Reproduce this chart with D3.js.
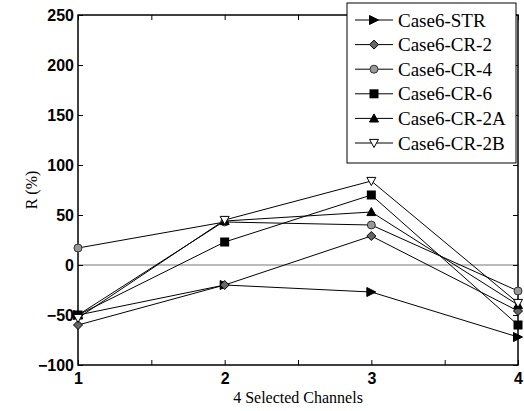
<!DOCTYPE html>
<html>
<head>
<meta charset="utf-8">
<script src="https://cdn.jsdelivr.net/npm/d3@7"></script>
<style>
  html, body { margin: 0; padding: 0; background: #fff; }
  svg { display: block; }
</style>
</head>
<body>
<svg id="chart" width="524" height="411"></svg>
<script>
// Channel positions on the x axis
const channels = [1, 2, 3, 4];

// R (%) for each case at the four selected channels
const seriesNames = ["Case6-STR", "Case6-CR-2", "Case6-CR-4", "Case6-CR-6", "Case6-CR-2A", "Case6-CR-2B"];
const strValues  = [-50, -20, -27, -72];
const cr2Values  = [-60, -20, 29, -46];
const cr4Values  = [17, 43, 40, -26];
const cr6Values  = [-50, 23, 70, -60];
const cr2aValues = [-50, 44, 53, -40];
const cr2bValues = [-53, 45, 84, -38];

const xTickValues = [1, 1.5, 2, 2.5, 3, 3.5, 4];
const xTickLabels = ["1", "", "2", "", "3", "", "4"];
const yTickValues = [-100, -50, 0, 50, 100, 150, 200, 250];

const allValues = [strValues, cr2Values, cr4Values, cr6Values, cr2aValues, cr2bValues];
const markerKinds = ["triRight", "diamond", "circle", "square", "triUp", "triDown"];

const svg = d3.select("#chart");
const margin = { left: 78, right: 6, top: 15, bottom: 46 };
const W = 524, H = 411;

const x = d3.scaleLinear().domain([1, 4]).range([margin.left, W - margin.right]);
const y = d3.scaleLinear().domain([-100, 250]).range([H - margin.bottom, margin.top]);

const x0 = x.range()[0], x1 = x.range()[1];
const y0 = y.range()[0], y1 = y.range()[1];

// zero reference line
svg.append("line")
  .attr("x1", x0).attr("x2", x1)
  .attr("y1", y(0)).attr("y2", y(0))
  .attr("stroke", "#777").attr("stroke-width", 1);

// axes with inward ticks
const tickFont = "bold 16px 'Liberation Sans', Arial, sans-serif";
const xAxis = d3.axisBottom(x).tickValues(xTickValues)
  .tickFormat((d, i) => xTickLabels[i]).tickSizeInner(-5).tickSizeOuter(0).tickPadding(8);
const yAxis = d3.axisLeft(y).tickValues(yTickValues)
  .tickFormat(d3.format("d")).tickSizeInner(-5).tickSizeOuter(0).tickPadding(4);

const gx = svg.append("g").attr("transform", `translate(0,${y0})`).call(xAxis);
const gy = svg.append("g").attr("transform", `translate(${x0},0)`).call(yAxis);
const gxTop = svg.append("g").attr("transform", `translate(0,${y1})`)
  .call(d3.axisTop(x).tickValues(xTickValues).tickFormat("").tickSizeInner(-5).tickSizeOuter(0));
const gyRight = svg.append("g").attr("transform", `translate(${x1},0)`)
  .call(d3.axisRight(y).tickValues(yTickValues).tickFormat("").tickSizeInner(-5).tickSizeOuter(0));

[gx, gy, gxTop, gyRight].forEach(g => {
  g.select(".domain").remove();
  g.selectAll(".tick line").attr("stroke", "#000").attr("stroke-width", 1);
  g.selectAll(".tick text").style("font", tickFont).attr("fill", "#000");
});
gy.selectAll(".tick text").attr("dy", "0.35em");

// plot box
svg.append("rect")
  .attr("x", x0).attr("y", y1)
  .attr("width", x1 - x0).attr("height", y0 - y1)
  .attr("fill", "none").attr("stroke", "#000").attr("stroke-width", 1.5);

// axis titles
const titleFont = "16px 'Liberation Serif', 'Times New Roman', serif";
svg.append("text")
  .attr("x", (x0 + x1) / 2).attr("y", 403)
  .attr("text-anchor", "middle")
  .style("font", titleFont).text("4 Selected Channels");
svg.append("text")
  .attr("transform", `translate(37,${(y0 + y1) / 2}) rotate(-90)`)
  .attr("text-anchor", "middle")
  .style("font", titleFont).text("R (%)");

// marker drawing
function drawMarker(g, kind, cx, cy) {
  const s = 4.5;
  if (kind === "triRight") {
    g.append("path").attr("d", `M${cx - s},${cy - s}L${cx + s},${cy}L${cx - s},${cy + s}Z`)
      .attr("fill", "#000").attr("stroke", "#000");
  } else if (kind === "diamond") {
    g.append("path").attr("d", `M${cx},${cy - s}L${cx + s},${cy}L${cx},${cy + s}L${cx - s},${cy}Z`)
      .attr("fill", "#666").attr("stroke", "#000");
  } else if (kind === "circle") {
    g.append("circle").attr("cx", cx).attr("cy", cy).attr("r", s - 0.5)
      .attr("fill", "#999").attr("stroke", "#333");
  } else if (kind === "square") {
    g.append("rect").attr("x", cx - s).attr("y", cy - s).attr("width", 2 * s).attr("height", 2 * s)
      .attr("fill", "#000");
  } else if (kind === "triUp") {
    g.append("path").attr("d", `M${cx - s},${cy + s * 0.8}L${cx + s},${cy + s * 0.8}L${cx},${cy - s}Z`)
      .attr("fill", "#000").attr("stroke", "#000");
  } else if (kind === "triDown") {
    g.append("path").attr("d", `M${cx - s},${cy - s * 0.8}L${cx + s},${cy - s * 0.8}L${cx},${cy + s}Z`)
      .attr("fill", "#fff").attr("stroke", "#000");
  }
}

const line = d3.line().x((d, i) => x(channels[i])).y(d => y(d));
const plot = svg.append("g");
allValues.forEach((vals, k) => {
  plot.append("path").datum(vals).attr("d", line)
    .attr("fill", "none").attr("stroke", "#000").attr("stroke-width", 1);
});
allValues.forEach((vals, k) => {
  vals.forEach((v, i) => drawMarker(plot, markerKinds[k], x(channels[i]), y(v)));
});

// legend
const lg = svg.append("g");
const lgX = 347, lgY = 3, lgW = 169, lgH = 160;
lg.append("rect").attr("x", lgX).attr("y", lgY).attr("width", lgW).attr("height", lgH)
  .attr("fill", "#fff").attr("stroke", "#000").attr("stroke-width", 1);
const lgFont = "19px 'Liberation Serif', 'Times New Roman', serif";
seriesNames.forEach((name, k) => {
  const cy = lgY + 17 + k * 24.6;
  lg.append("line").attr("x1", lgX + 8).attr("x2", lgX + 46)
    .attr("y1", cy).attr("y2", cy).attr("stroke", "#000").attr("stroke-width", 1);
  drawMarker(lg, markerKinds[k], lgX + 27, cy);
  lg.append("text").attr("x", lgX + 51).attr("y", cy).attr("dy", "0.35em")
    .style("font", lgFont).text(name);
});
</script>
</body>
</html>
